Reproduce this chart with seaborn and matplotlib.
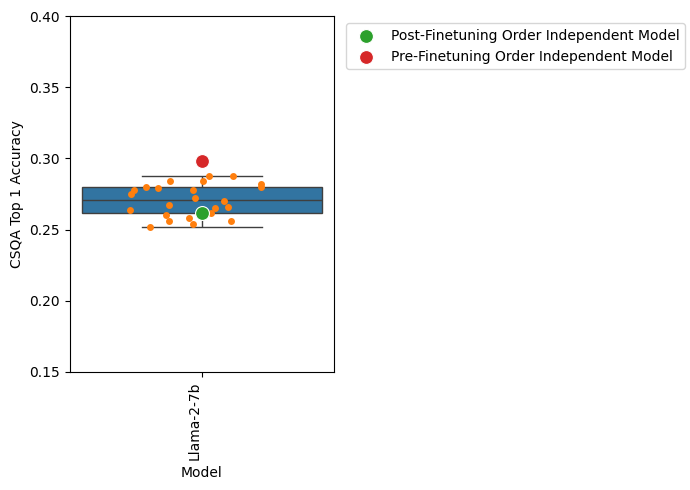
import matplotlib
matplotlib.use("Agg")
import matplotlib.pyplot as plt
import seaborn as sns
import pandas as pd
import numpy as np

model = "Llama-2-7b"
accs = [0.288, 0.288, 0.284, 0.284, 0.282, 0.280, 0.280, 0.279, 0.278, 0.278,
        0.275, 0.272, 0.270, 0.267, 0.266, 0.265, 0.264, 0.262, 0.260, 0.258,
        0.256, 0.256, 0.254, 0.2515]
post_acc = [0.262]
pre_acc = [0.298]

df = pd.DataFrame({"Model": [model] * len(accs), "CSQA Top 1 Accuracy": accs})
post = pd.DataFrame({"Model": [model], "CSQA Top 1 Accuracy": post_acc})
pre = pd.DataFrame({"Model": [model], "CSQA Top 1 Accuracy": pre_acc})

np.random.seed(3)
fig, ax = plt.subplots(figsize=(6.9, 4.9), dpi=100)
sns.boxplot(data=df, x="Model", y="CSQA Top 1 Accuracy", color="#1f77b4",
            saturation=0.75, showfliers=False, ax=ax)
sns.stripplot(data=df, x="Model", y="CSQA Top 1 Accuracy", color="#ff7f0e",
              jitter=0.25, size=5, ax=ax)
sns.scatterplot(data=post, x="Model", y="CSQA Top 1 Accuracy", color="#2ca02c",
                s=100, edgecolor="white", ax=ax, label="Post-Finetuning Order Independent Model", zorder=5)
sns.scatterplot(data=pre, x="Model", y="CSQA Top 1 Accuracy", color="#d62728",
                s=100, edgecolor="white", ax=ax, label="Pre-Finetuning Order Independent Model", zorder=5)
ax.set_ylim(0.15, 0.40)
plt.setp(ax.get_xticklabels(), rotation=90, ha="right")
ax.legend(loc="upper left", bbox_to_anchor=(1.02, 1.0))
fig.subplots_adjust(left=0.101, right=0.484, top=0.967, bottom=0.241)
fig.savefig("out.png", dpi=100)
